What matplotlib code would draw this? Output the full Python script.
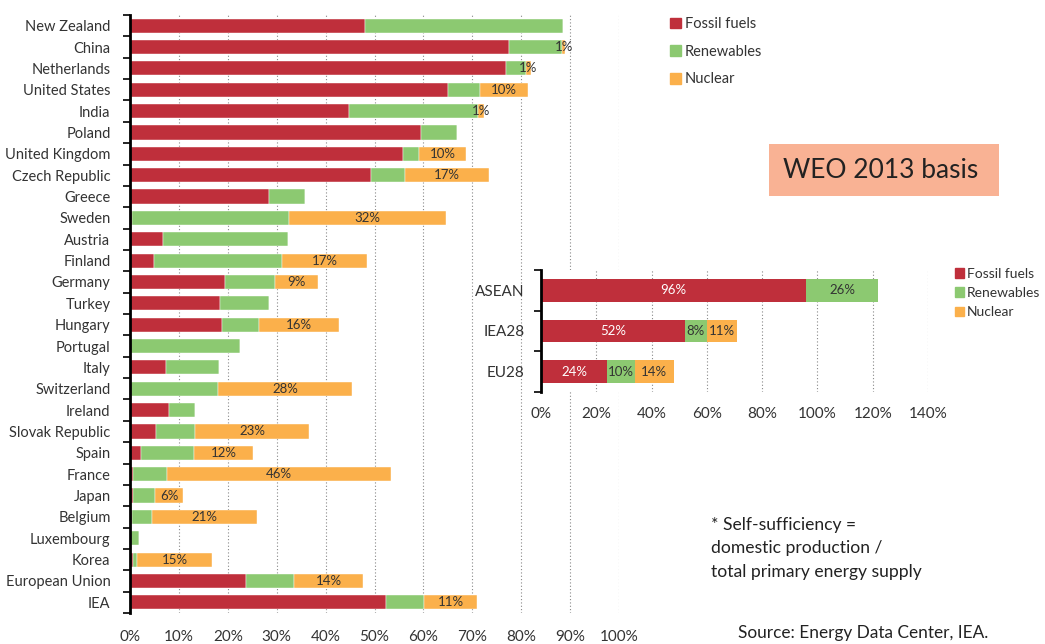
import numpy as np
import matplotlib
matplotlib.use('Agg')
import matplotlib.pyplot as plt
from matplotlib.patches import Patch, Rectangle

plt.rcParams['font.family'] = ['Lato', 'DejaVu Sans']

# main chart data (share of TPES, %)
countries = ['New Zealand', 'China', 'Netherlands', 'United States', 'India', 'Poland',
             'United Kingdom', 'Czech Republic', 'Greece', 'Sweden', 'Austria', 'Finland',
             'Germany', 'Turkey', 'Hungary', 'Portugal', 'Italy', 'Switzerland', 'Ireland',
             'Slovak Republic', 'Spain', 'France', 'Japan', 'Belgium', 'Luxembourg', 'Korea',
             'European Union', 'IEA']
fossil = [48.1, 77.5, 76.8, 65.1, 44.7, 59.5, 55.9, 49.3, 28.4, 0.5, 6.8, 4.9,
          19.5, 18.5, 18.9, 0.0, 7.4, 0.0, 7.9, 5.4, 2.2, 0.6, 0.6, 0.4, 0.0, 0.6,
          23.7, 52.4]
renew = [40.5, 10.9, 4.1, 6.4, 26.4, 7.4, 3.3, 7.0, 7.4, 32.0, 25.6, 26.2,
         10.1, 9.9, 7.5, 22.5, 10.9, 17.9, 5.4, 7.9, 10.9, 7.0, 4.6, 4.2, 1.9, 0.8,
         9.8, 7.8]
nuclear = [0.0, 0.6, 1.2, 9.8, 1.3, 0.0, 9.6, 17.1, 0.0, 32.2, 0.0, 17.4,
           8.9, 0.0, 16.4, 0.0, 0.0, 27.6, 0.0, 23.4, 12.0, 45.7, 5.7, 21.4, 0.0, 15.4,
           14.2, 10.8]

# inset data
regions = ['ASEAN', 'IEA28', 'EU28']
fossil_r = [96, 52, 24]
renew_r = [26, 8, 10]
nuclear_r = [0, 11, 14]

note_lines = ['* Self-sufficiency =', 'domestic production /', 'total primary energy supply']

c_fos = '#BF2F3B'
c_ren = '#8CC971'
c_nuc = '#FBB04B'
c_txt = '#333333'
W, H = 1045, 644

fig = plt.figure(figsize=(W / 100, H / 100), dpi=100)


def box(l, r, t, b):
    return [l / W, 1 - b / H, (r - l) / W, (b - t) / H]


def style_axis(ax, n, xmax, step):
    ax.set_ylim(n - 0.5, -0.5)
    for s in ['top', 'right', 'bottom']:
        ax.spines[s].set_visible(False)
    ax.spines['left'].set_linewidth(2)
    ax.spines['left'].set_color('black')
    ax.set_yticks(np.arange(n))
    ax.set_yticks(np.arange(n + 1) - 0.5, minor=True)
    ax.tick_params(axis='y', which='major', length=0, pad=14)
    ax.tick_params(axis='y', which='minor', length=5, width=1.2, color='black')
    ax.tick_params(axis='x', length=0, pad=12, labelsize=11, colors=c_txt)
    ticks = np.arange(0, xmax + 1, step)
    ax.set_xticks(ticks)
    ax.set_xticklabels([f'{v}%' for v in ticks])
    ax.grid(axis='x', linestyle=(0, (1, 2)), color='#888888', linewidth=0.8)
    ax.set_axisbelow(True)


# ---- main chart
ax = fig.add_axes(box(130, 619, 15, 613))
y = np.arange(len(countries))
fossil = np.array(fossil)
renew = np.array(renew)
nuclear = np.array(nuclear)
ax.barh(y, fossil, height=0.66, color=c_fos, edgecolor='white', linewidth=0.3)
ax.barh(y, renew, left=fossil, height=0.66, color=c_ren, edgecolor='white', linewidth=0.3)
ax.barh(y, nuclear, left=fossil + renew, height=0.66, color=c_nuc, edgecolor='white', linewidth=0.3)
ax.set_xlim(0, 100)
style_axis(ax, len(countries), 100, 10)
ax.set_yticklabels(countries, fontsize=10.5, color=c_txt)
for i in range(len(countries)):
    if nuclear[i] > 0:
        ax.text(fossil[i] + renew[i] + nuclear[i] / 2, i, f'{nuclear[i]:.0f}%',
                ha='center', va='center', fontsize=9.5, color=c_txt)

# ---- inset chart
ax2 = fig.add_axes(box(541, 928, 270, 392))
yr = np.arange(len(regions))
fossil_r = np.array(fossil_r)
renew_r = np.array(renew_r)
nuclear_r = np.array(nuclear_r)
ax2.barh(yr, fossil_r, height=0.56, color=c_fos)
ax2.barh(yr, renew_r, left=fossil_r, height=0.56, color=c_ren)
ax2.barh(yr, nuclear_r, left=fossil_r + renew_r, height=0.56, color=c_nuc)
ax2.set_xlim(0, 140)
style_axis(ax2, len(regions), 140, 20)
ax2.set_yticklabels(regions, fontsize=11, color=c_txt)
ax2.tick_params(axis='y', which='major', pad=12)
ax2.tick_params(axis='x', pad=11)
for i in range(len(regions)):
    segs = [(0, fossil_r[i], 'white'), (fossil_r[i], renew_r[i], c_txt),
            (fossil_r[i] + renew_r[i], nuclear_r[i], c_txt)]
    for left, val, col in segs:
        if val > 0:
            ax2.text(left + val / 2, i, f'{val}%', ha='center', va='center',
                     fontsize=9.5, color=col)

# ---- legends
handles = [Patch(color=c_fos, label='Fossil fuels'),
           Patch(color=c_ren, label='Renewables'),
           Patch(color=c_nuc, label='Nuclear')]
fig.legend(handles=handles, loc='upper left', bbox_to_anchor=(657 / W, 1 - 4 / H),
           frameon=False, fontsize=10.5, handlelength=0.75, handleheight=0.75,
           handletextpad=0.25, labelspacing=0.93, labelcolor=c_txt)
fig.legend(handles=handles, loc='upper left', bbox_to_anchor=(942 / W, 1 - 255 / H),
           frameon=False, fontsize=10, handlelength=0.7, handleheight=0.7,
           handletextpad=0.2, labelspacing=0.53, labelcolor=c_txt)

# ---- annotations
fig.patches.append(Rectangle((769 / W, 1 - 196 / H), 230 / W, 52 / H,
                             transform=fig.transFigure, facecolor='#F9B294',
                             edgecolor='none'))
fig.text(783 / W, 1 - 170 / H, 'WEO 2013 basis', fontsize=19, color='#222222',
         va='center', ha='left')
for k, line in enumerate(note_lines):
    fig.text(711 / W, 1 - (525 + 23.5 * k) / H, line, fontsize=12.6,
             color='#222222', va='center', ha='left')
fig.text(738 / W, 1 - 633 / H, 'Source: Energy Data Center, IEA.', fontsize=12.4,
         color='#222222', va='center', ha='left')

fig.savefig('out.png', dpi=100)
